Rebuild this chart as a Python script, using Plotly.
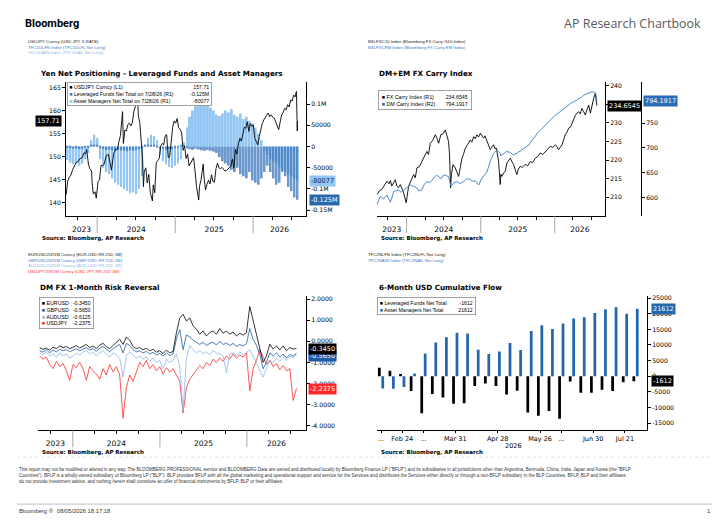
import plotly.graph_objects as go
import pandas as pd

W, H = 728, 525
def px(x): return x / W
def py(y): return 1 - y / H

# ---------------- DATA ----------------
# Panel 1: USDJPY spot (left axis)
usdjpy_dates = [
"2023-08-09","2023-08-16","2023-08-23","2023-08-30","2023-09-08","2023-09-15","2023-09-25","2023-10-04","2023-10-13","2023-10-23",
"2023-11-01","2023-11-08","2023-11-13","2023-11-21","2023-11-28","2023-12-06","2023-12-08","2023-12-14","2023-12-22","2023-12-28",
"2024-01-05","2024-01-12","2024-01-19","2024-01-26","2024-02-02","2024-02-13","2024-02-23","2024-03-08","2024-03-19","2024-03-27",
"2024-04-05","2024-04-12","2024-04-19","2024-04-26","2024-04-29","2024-05-03","2024-05-10","2024-05-17","2024-05-24","2024-05-31",
"2024-06-07","2024-06-14","2024-06-21","2024-06-28","2024-07-03","2024-07-10","2024-07-12","2024-07-19","2024-07-26","2024-08-01",
"2024-08-05","2024-08-09","2024-08-16","2024-08-23","2024-08-30","2024-09-06","2024-09-16","2024-09-20","2024-09-27","2024-10-04",
"2024-10-11","2024-10-18","2024-10-25","2024-11-01","2024-11-08","2024-11-15","2024-11-22","2024-11-29","2024-12-06","2024-12-13",
"2024-12-20","2024-12-27","2025-01-03","2025-01-10","2025-01-17","2025-01-24","2025-01-31","2025-02-07","2025-02-14","2025-02-21",
"2025-02-28","2025-03-07","2025-03-14","2025-03-21","2025-03-28","2025-04-04","2025-04-11","2025-04-21","2025-04-25","2025-05-02",
"2025-05-12","2025-05-16","2025-05-23","2025-05-30","2025-06-06","2025-06-13","2025-06-20","2025-06-27","2025-07-04","2025-07-11",
"2025-07-18","2025-07-25","2025-08-01","2025-08-08","2025-08-15","2025-08-22","2025-08-29","2025-09-05","2025-09-12","2025-09-19",
"2025-09-26","2025-10-03","2025-10-10","2025-10-17","2025-10-24","2025-10-31","2025-11-07","2025-11-14","2025-11-21","2025-11-28",
"2025-12-05","2025-12-12","2025-12-19","2025-12-26","2026-01-02","2026-01-09","2026-01-16","2026-01-23","2026-01-30","2026-02-06",
"2026-02-13","2026-02-20","2026-02-27","2026-03-06","2026-03-13","2026-03-20","2026-03-27","2026-04-03","2026-04-10","2026-04-17",
"2026-04-24","2026-05-01","2026-05-08","2026-05-15","2026-05-22","2026-05-29","2026-06-05","2026-06-12","2026-06-19","2026-06-26",
"2026-07-03","2026-07-10","2026-07-17","2026-07-23","2026-07-24","2026-07-27","2026-07-28"]
usdjpy_vals = [
141.8,144.7,145.6,145.9,147.2,147.8,148.8,149.0,149.6,149.8,
150.9,150.6,151.6,148.4,147.4,146.9,144.6,141.9,142.4,141.0,
144.6,145.0,148.1,148.1,148.3,150.3,150.5,147.1,150.8,151.5,
151.6,153.3,154.6,158.2,159.8,152.9,155.8,155.6,157.0,157.3,
156.7,157.4,159.8,160.9,161.6,161.4,158.9,157.4,153.8,149.4,
143.5,146.9,147.6,144.3,146.2,142.3,140.4,143.9,142.2,148.7,
149.2,149.6,152.3,152.9,152.6,154.6,154.8,149.8,150.0,153.7,
156.4,157.8,157.3,158.3,156.3,156.0,155.2,151.4,152.3,149.6,
150.6,148.0,148.6,149.3,149.8,146.9,143.5,140.6,143.6,145.0,
148.4,145.6,142.8,144.0,144.9,144.1,146.1,144.6,144.5,147.4,
148.6,147.6,147.4,147.7,147.2,146.9,147.0,147.4,147.7,148.0,
149.5,147.5,151.6,150.6,152.8,154.0,153.4,154.6,156.4,156.2,
157.6,155.5,157.2,156.6,156.9,154.0,153.2,152.6,154.4,155.9,
157.2,158.0,158.4,159.0,159.5,158.7,159.1,158.6,158.4,157.5,
156.8,155.9,157.6,159.1,159.6,160.5,160.2,161.3,160.8,162.3,
162.1,163.4,163.0,164.2,162.5,155.6,157.71]

# Panel 1: yen net positioning, bi-weekly (right axis)
pos_dates = pd.date_range("2023-08-15", periods=78, freq="14D")
am_net = [
-32000,-38000,-42000,-40000,-45000,-40000,-30000,-15000,15000,28000,
20000,-30000,-50000,-60000,-65000,-75000,-85000,-90000,-95000,-100000,
-105000,-110000,-108000,-112000,-100000,-70000,5000,20000,28000,25000,
15000,-20000,-35000,-42000,-48000,-50000,-45000,-40000,-30000,10000,
45000,70000,85000,95000,100000,105000,100000,98000,92000,85000,
75000,72000,78000,85000,80000,88000,75000,70000,78000,65000,
70000,60000,55000,45000,30000,15000,-10000,-20000,-30000,-35000,
-40000,-50000,-55000,-60000,-65000,-70000,-75000,-80077]
lf_net = [
-3000,-4000,-5000,-4000,-6000,-5000,-3000,-2000,2000,4000,
3000,-4000,-6000,-8000,-7000,-9000,-10000,-8000,-9000,-10000,
-11000,-9000,-10000,-8000,-6000,-3000,2000,3000,4000,2000,
-3000,-5000,-6000,-7000,-6000,-5000,-4000,-3000,2000,4000,
-4000,-6000,-8000,-5000,-7000,-9000,-10000,-8000,-10000,-12000,
-15000,-25000,-35000,-40000,-45000,-55000,-60000,-50000,-65000,-70000,
-75000,-60000,-80000,-85000,-90000,-75000,-60000,-45000,-60000,-75000,
-90000,-85000,-60000,-70000,-95000,-105000,-120000,-125300]
pos_right_ticks = [-150000, -100000, -50000, 0, 50000, 100000]
pos_right_text = ["-0.15M", "-0.1M", "-50000", "0", "50000", "0.1M"]
usdjpy_ticks = [140, 145, 150, 155, 160, 165]

# Panel 2: FX carry indices
carry_dates = [
"2023-08-08","2023-08-21","2023-09-01","2023-09-14","2023-09-26","2023-10-06","2023-10-13","2023-10-20","2023-10-30","2023-11-06",
"2023-11-14","2023-11-22","2023-12-01","2023-12-10","2023-12-17","2023-12-30","2024-01-11","2024-01-24","2024-02-05","2024-02-13",
"2024-02-21","2024-03-04","2024-03-16","2024-03-28","2024-04-10","2024-04-18","2024-04-27","2024-05-08","2024-05-22","2024-06-01",
"2024-06-07","2024-06-18","2024-06-28","2024-07-10","2024-07-18","2024-07-26","2024-07-31","2024-08-05","2024-08-09","2024-08-17",
"2024-08-28","2024-09-06","2024-09-14","2024-09-22","2024-09-30","2024-10-08","2024-10-17","2024-10-28","2024-11-10","2024-11-18",
"2024-11-27","2024-12-05","2024-12-13","2024-12-21","2024-12-30","2025-01-08","2025-01-15","2025-01-22","2025-01-31","2025-02-08",
"2025-02-17","2025-02-26","2025-03-05","2025-03-12","2025-03-19","2025-03-30","2025-04-07","2025-04-10","2025-04-15","2025-04-24",
"2025-05-02","2025-05-10","2025-05-18","2025-05-27","2025-06-04","2025-06-12","2025-06-20","2025-06-28","2025-07-06","2025-07-15",
"2025-07-25","2025-08-09","2025-08-20","2025-09-02","2025-09-14","2025-09-27","2025-10-09","2025-10-22","2025-11-03","2025-11-16",
"2025-11-28","2025-12-10","2025-12-22","2026-01-04","2026-01-12","2026-01-20","2026-02-06","2026-02-14","2026-02-22","2026-03-02",
"2026-03-11","2026-03-20","2026-03-27","2026-04-04","2026-04-12","2026-04-20","2026-04-29","2026-05-07","2026-05-15","2026-05-24",
"2026-06-01","2026-06-09","2026-06-17","2026-06-26","2026-07-05","2026-07-12","2026-07-20","2026-07-24","2026-07-28"]
carry_vals = [
210.7,211.8,212.1,213.2,214.3,213.6,214.5,213.0,214.2,214.7,
213.0,212.6,213.4,212.4,211.2,208.5,213.0,214.6,216.1,215.2,
217.9,218.2,219.6,221.0,222.3,221.5,224.5,225.2,226.8,225.6,
224.5,226.8,227.0,228.1,226.8,225.0,221.4,212.5,216.0,218.8,
217.9,216.8,215.6,218.0,220.5,221.6,223.2,224.1,225.4,224.8,
226.3,225.7,226.8,226.2,227.2,226.4,225.9,226.5,225.0,223.9,
222.8,223.6,224.1,223.0,223.2,219.6,213.4,216.2,215.6,216.5,
217.0,219.2,219.8,220.5,219.5,218.8,217.4,216.1,217.6,218.3,
218.0,218.9,218.4,219.6,219.3,220.5,220.9,221.9,221.5,222.3,
222.9,223.7,223.4,224.1,223.6,222.8,224.1,225.3,226.8,227.4,
228.6,228.9,229.9,231.2,231.9,232.6,233.0,232.4,233.9,233.0,
232.1,233.5,234.8,232.6,235.0,236.6,237.9,236.2,234.6545]
dm_dates = [
"2023-08-08","2023-08-24","2023-09-10","2023-09-26","2023-10-13","2023-10-30","2023-11-24","2023-12-05","2023-12-17","2024-01-02",
"2024-01-19","2024-02-05","2024-02-21","2024-03-01","2024-03-16","2024-03-28","2024-04-10","2024-04-25","2024-05-13","2024-05-27",
"2024-06-07","2024-06-20","2024-07-02","2024-07-26","2024-08-07","2024-08-20","2024-09-06","2024-09-20","2024-10-09","2024-10-24",
"2024-11-11","2024-11-25","2024-12-05","2024-12-22","2025-01-07","2025-01-20","2025-02-01","2025-02-17","2025-03-05","2025-03-22",
"2025-04-07","2025-04-10","2025-04-23","2025-05-08","2025-05-26","2025-06-10","2025-06-28","2025-07-15","2025-07-31","2025-08-12",
"2025-08-26","2025-09-05","2025-09-19","2025-10-01","2025-10-14","2025-10-27","2025-11-08","2025-11-24","2025-12-11","2025-12-25",
"2026-01-05","2026-01-17","2026-01-29","2026-02-15","2026-02-28","2026-03-11","2026-03-24","2026-04-05","2026-04-18","2026-04-30",
"2026-05-12","2026-05-25","2026-06-06","2026-06-18","2026-07-05","2026-07-22","2026-07-28"]
dm_vals = [
585,602,597,605,590,612,615,610,615,619,
625,622,619,613,615,626,632,630,639,645,
642,638,646,642,622,629,632,628,632,638,
636,632,634,625,639,645,652,673,689,696,
689,684,689,693,691,686,689,694,699,702,
706,712,720,727,733,738,743,750,757,762,
767,770,774,780,783,787,791,794,796,800,
802,807,809,811,814,811,794.1917]
carry_ticks = [210, 215, 220, 225, 230, 235, 240]
dm_ticks = [600, 650, 700, 750]

# Panel 3: 1M 25D risk reversals (bi-weekly)
rr_dates = pd.date_range("2023-08-15", periods=78, freq="14D")
eur_rr = [
-0.30,-0.38,-0.33,-0.42,-0.28,-0.35,-0.22,-0.30,-0.25,-0.35,
-0.28,-0.20,-0.32,-0.25,-0.15,-0.30,-0.22,-0.35,-0.18,-0.10,
-0.25,-0.35,-0.20,-0.05,0.10,-0.15,0.20,0.05,-0.25,-0.35,
-0.30,-0.40,-0.33,-0.45,-0.38,-0.52,-0.45,-0.58,-0.42,-0.55,
-0.48,0.40,1.10,1.28,0.96,1.10,0.73,0.57,0.33,0.49,
0.25,0.41,0.49,0.33,0.60,0.38,0.49,0.33,0.44,0.25,
0.38,0.29,0.41,1.65,0.96,0.41,-0.30,-1.00,-0.69,-0.14,
-0.37,-0.22,-0.41,-0.22,-0.45,-0.30,-0.37,-0.345]
gbp_rr = [
-0.45,-0.52,-0.40,-0.55,-0.42,-0.50,-0.38,-0.45,-0.40,-0.50,
-0.42,-0.35,-0.45,-0.38,-0.30,-0.42,-0.35,-0.48,-0.32,-0.25,
-0.38,-0.50,-0.35,-0.25,-0.15,-0.55,-0.10,-0.20,-0.40,-0.50,
-0.45,-0.55,-0.48,-0.60,-0.52,-0.65,-0.58,-0.70,-0.55,-0.68,
-0.60,0.10,0.55,-0.40,0.30,0.20,0.05,-0.05,-0.15,-0.05,
-0.20,-0.10,-0.05,-0.18,0.00,-0.15,-0.08,-0.20,-0.10,-0.25,
-0.15,-0.22,-0.12,0.60,0.10,-0.20,-0.60,-1.30,-1.00,-0.55,
-0.70,-0.55,-0.75,-0.60,-0.80,-0.62,-0.70,-0.565]
aud_rr = [
-0.55,-0.65,-0.50,-0.70,-0.60,-0.75,-0.55,-0.68,-0.60,-0.80,
-0.70,-0.55,-0.65,-0.50,-0.45,-0.60,-0.50,-0.70,-0.55,-0.45,
-0.60,-0.75,-0.55,-0.65,-0.80,-1.70,-0.70,-0.50,-0.65,-0.80,
-0.70,-0.85,-0.75,-0.95,-0.80,-1.00,-0.90,-1.30,-0.85,-1.00,
-0.90,-0.60,-1.20,-3.30,-0.80,-0.20,-0.40,-0.55,-0.45,-0.60,
-0.50,-0.65,-0.45,-0.55,-0.60,-0.70,-1.50,-0.60,-0.55,-0.70,
-0.50,-0.65,-0.55,-0.40,-0.70,-1.00,-1.40,-1.70,-1.30,-0.90,
-1.00,-0.80,-0.95,-0.75,-0.90,-0.70,-0.80,-0.6125]
jpy_rr = [
-0.70,-0.85,-0.75,-1.10,-1.30,-0.95,-1.20,-1.05,-1.40,-1.85,
-1.10,-1.25,-1.00,-1.30,-1.85,-1.20,-1.40,-1.55,-1.80,-1.30,
-1.60,-1.10,-1.45,-1.20,-1.60,-3.65,-2.20,-1.60,-1.90,-1.40,
-1.00,-1.20,-0.90,-1.30,-1.10,-1.40,-1.20,-1.55,-1.25,-1.45,
-1.30,-1.60,-1.90,-3.40,-2.20,-1.80,-1.60,-1.40,-1.15,-1.30,
-1.00,-1.15,-0.85,-1.00,-0.80,-0.95,-0.70,-0.85,-0.60,-0.80,
-0.65,-0.75,-0.55,-2.35,-1.30,-0.90,-0.40,-0.75,-1.10,-0.90,
-1.20,-1.05,-1.35,-1.15,-1.40,-1.30,-2.80,-2.2375]
rr_ticks = [-4, -3, -2, -1, 0, 1, 2]
rr_text = ["-4.0000", "-3.0000", "-2.0000", "-1.0000", "0.0000", "1.0000", "2.0000"]

# Panel 4: 6-month USD cumulative flow (weekly)
flow_dates = [d.strftime("%Y-%m-%d") for d in pd.date_range("2026-02-10", periods=25, freq="7D")]
flow_lf = [2700,1800,700,-4700,-11800,-5700,-6800,-8800,-8600,-3100,-2300,-3100,-5800,
           -4600,-11600,-12600,-11100,-13600,-1700,-5300,-5300,-4300,-4700,-1900,-1612]
flow_am = [-3900,-4000,-3400,900,7300,10800,12500,13900,13700,8500,7100,7900,10600,
           8400,14500,16300,15100,16900,18500,18900,20200,21400,22100,20000,21612]
flow_tick_idx = [0, 2, 4, 7, 11, 15, 17, 20, 23]
flow_tick_text = ["...", "Feb 24", "...", "Mar 31", "Apr 28", "May 26", "...", "Jun 30", "Jul 21"]
flow_ticks = [-15000, -10000, -5000, 0, 5000, 10000, 15000, 20000, 25000]
flow_tick_text_y = ["-15000", "-10000", "-5000", "0", "5000", "10000", "15000", "20000", "25000"]

year_labels = ["2023", "2024", "2025", "2026"]
quarter_ticks = ["2023-10-01", "2024-04-01", "2024-07-01", "2024-10-01", "2025-04-01",
                 "2025-07-01", "2025-10-01", "2026-04-01", "2026-07-01"]
year_bounds = ["2024-01-01", "2025-01-01", "2026-01-01"]

# ---------------- STYLE ----------------
FONT = "DejaVu Sans"
LFONT = "Liberation Sans"
C_LIGHT = "#93c6f2"
C_DARK = "#3b77bd"
C_BLUE = "#2367ae"
C_RED = "#ff2b2b"

X0, X1 = "2023-08-08", "2026-09-06"
b = [pd.Timestamp(X0)] + [pd.Timestamp(v) for v in year_bounds] + [pd.Timestamp(X1)]
year_centers = [(b[i] + (b[i + 1] - b[i]) / 2).strftime("%Y-%m-%d %H:%M") for i in range(4)]

fig = go.Figure()

# Panel 1
bw = 9 * 24 * 3600 * 1000
fig.add_trace(go.Bar(x=pos_dates, y=am_net, xaxis="x", yaxis="y", marker=dict(color=C_LIGHT, line=dict(width=0)),
                     width=bw, offset=-bw / 2, showlegend=False))
fig.add_trace(go.Bar(x=pos_dates, y=lf_net, xaxis="x", yaxis="y", marker=dict(color=C_DARK, line=dict(width=0)),
                     opacity=0.75, width=bw, offset=-bw / 2, showlegend=False))
fig.add_trace(go.Scatter(x=usdjpy_dates, y=usdjpy_vals, xaxis="x", yaxis="y2", mode="lines",
                         line=dict(color="black", width=0.9), showlegend=False))
# Panel 2
fig.add_trace(go.Scatter(x=carry_dates, y=carry_vals, xaxis="x2", yaxis="y3", mode="lines",
                         line=dict(color="black", width=0.9), showlegend=False))
fig.add_trace(go.Scatter(x=dm_dates, y=dm_vals, xaxis="x2", yaxis="y4", mode="lines",
                         line=dict(color="#3d7cc9", width=0.9), showlegend=False))
# Panel 3
for vals, col in [(jpy_rr, C_RED), (aud_rr, "#86b9ec"), (gbp_rr, "#1f5aa6"), (eur_rr, "black")]:
    fig.add_trace(go.Scatter(x=rr_dates, y=vals, xaxis="x3", yaxis="y5", mode="lines",
                             line=dict(color=col, width=0.8), showlegend=False))
# Panel 4
fig.add_trace(go.Bar(x=flow_dates, y=flow_lf, xaxis="x4", yaxis="y6", marker=dict(color="black", line=dict(width=0)), showlegend=False))
fig.add_trace(go.Bar(x=flow_dates, y=flow_am, xaxis="x4", yaxis="y6", marker=dict(color=C_BLUE, line=dict(width=0)), showlegend=False))

tickf = dict(family=FONT, size=6.2, color="black")

def time_x(dom, anchor):
    return dict(domain=dom, anchor=anchor, type="date", range=[X0, X1], showline=True, linecolor="black",
                linewidth=0.8, showgrid=False, zeroline=False, ticks="", tickmode="array",
                tickvals=year_centers, ticktext=year_labels, ticklabelstandoff=6,
                tickfont=dict(family=FONT, size=7.5, color="black"),
                minor=dict(tickmode="array", tickvals=quarter_ticks, ticks="outside", ticklen=3,
                           tickcolor="black", tickwidth=0.8, showgrid=False))

def val_y(dom, anchor, rng, tv, tt=None, side="right", **kw):
    d = dict(domain=dom, anchor=anchor, range=rng, side=side, showline=True, linecolor="black", linewidth=0.8,
             showgrid=False, zeroline=False, ticks="outside", ticklen=3, tickwidth=0.8, tickcolor="black",
             tickmode="array", tickvals=tv, tickfont=tickf)
    d["ticktext"] = tt if tt is not None else [str(v) for v in tv]
    d.update(kw)
    return d

top_dom = [py(215), py(80)]
bot_dom = [py(430), py(295)]

fig.update_layout(
    width=W, height=H, margin=dict(l=0, r=0, t=0, b=0),
    paper_bgcolor="white", plot_bgcolor="white",
    barmode="group", bargap=0.35, bargroupgap=0.2,
    xaxis=time_x([px(66), px(306)], "y"),
    yaxis=val_y(top_dom, "x", [-164000, 152600], pos_right_ticks, pos_right_text),
    yaxis2=val_y(top_dom, "x", [137.1, 166.3], usdjpy_ticks, side="left", overlaying="y"),
    xaxis2=time_x([px(377), px(605)], "y3"),
    yaxis3=val_y(top_dom, "x2", [204.9, 241.07], carry_ticks),
    yaxis4=val_y(top_dom, "free", [562, 834], dm_ticks, overlaying="y3", position=px(641)),
    xaxis3=time_x([px(38), px(306)], "y5"),
    yaxis5=val_y(bot_dom, "x3", [-4.22, 2.15], rr_ticks, rr_text),
    xaxis4=dict(domain=[px(377), px(647)], anchor="y6", type="category", range=[-0.38, 25.08],
                showline=True, linecolor="black", linewidth=0.8, showgrid=False, zeroline=False,
                ticks="outside", ticklen=2, tickcolor="black", tickwidth=0.8, tickmode="array",
                tickvals=[flow_dates[i] for i in flow_tick_idx], ticktext=flow_tick_text,
                tickfont=dict(family=FONT, size=6.5, color="black")),
    yaxis6=val_y(bot_dom, "x4", [-17300, 25700], flow_ticks, flow_tick_text_y),
)

# ---------------- ANNOTATIONS ----------------
ann = []
def text(t, x, y, size, color="black", family=FONT, xanchor="left", yanchor="middle", **kw):
    d = dict(text=t, x=px(x), y=py(y), xref="paper", yref="paper", xanchor=xanchor, yanchor=yanchor,
             showarrow=False, font=dict(family=family, size=size, color=color), align="left")
    d.update(kw)
    ann.append(d)

# page header
text("<b>Bloomberg</b>", 23, 22, 11, family="Roboto")
text("AP Research Chartbook", 703, 22, 12.5, color="#5a5a5a", family="Open Sans", xanchor="right")

# series headers
def header(lines, x, y):
    t = "<br>".join(f"<span style='color:{c}'>{s}</span>" for s, c in lines)
    text(t, x, y, 4.3, family=LFONT, yanchor="top")
header([("USDJPY Curncy (USD JPY X-RATE)", "#222"), ("TFC1DLFN Index (TFC1DLFL Net Long)", "#3b7bd0"),
        ("TFC1DAIN Index (TFC1DAIL Net Long)", "#8ab8e8")], 26, 35)
header([("BSLFXC10 Index (Bloomberg FX Carry G10 Index)", "#222"),
        ("BSLFXCEM Index (Bloomberg FX Carry EM Index)", "#3b7bd0")], 366, 35)
header([("EURUSD25R1M Curncy (EUR-USD RR 25D 1M)", "#222"), ("GBPUSD25R1M Curncy (GBP-USD RR 25D 1M)", "#3b7bd0"),
        ("AUDUSD25R1M Curncy (AUD-USD RR 25D 1M)", "#8ab8e8"), ("USDJPY25R1M Curncy (USD JPY RR 25D 1M)", C_RED)], 26, 249)
header([("TFC2NLFN Index (TFC2NLFL Net Long)", "#222"), ("TFC2NAIN Index (TFC2NAIL Net Long)", "#3b7bd0")], 366, 249)

# titles
text("<b>Yen Net Positioning - Leveraged Funds and Asset Managers</b>", 38, 72, 7.2)
text("<b>DM+EM FX Carry Index</b>", 377, 72, 7.2)
text("<b>DM FX 1-Month Risk Reversal</b>", 38, 287, 7.2)
text("<b>6-Month USD Cumulative Flow</b>", 377, 287, 7.2)

# sources
for x, y in [(40, 237), (379, 237), (40, 452.5), (379, 452.5)]:
    text("<b>Source: Bloomberg, AP Research</b>", x, y, 5.5)

text("2026", 513, 445.5, 6.5, xanchor="center")

# legends
def legend_box(x, y, w, rows, size=5.2, pad=1.5):
    names = "<br>".join(f"<span style='color:{c}'>■</span> {n}" for c, n, v in rows)
    vals = "<br>".join(v for c, n, v in rows)
    base = dict(x=px(x), y=py(y), xref="paper", yref="paper", xanchor="left", yanchor="top",
                width=w, showarrow=False, borderpad=pad, borderwidth=0.8,
                font=dict(family=LFONT, size=size, color="black"))
    ann.append(dict(base, text=names, align="left", bgcolor="white", bordercolor="#8a8a8a"))
    ann.append(dict(base, text=vals, align="right", bgcolor="rgba(0,0,0,0)", bordercolor="rgba(0,0,0,0)"))

legend_box(67, 80, 140, [("black", "USDJPY Curncy (L1)", f"{usdjpy_vals[-1]:.2f}"),
                         (C_DARK, "Leveraged Funds Net Total on 7/28/26 (R1)", "-0.125M"),
                         (C_LIGHT, "Asset Managers Net Total on 7/28/26 (R1)", f"{am_net[-1]}")])
legend_box(378, 88, 86, [("black", "FX Carry Index (R1)", f"{carry_vals[-1]:.4f}"),
                         (C_BLUE, "DM Carry Index (R2)", f"{dm_vals[-1]:.4f}")], size=5.3, pad=3)
legend_box(39, 296, 49, [("black", "EURUSD", f"{eur_rr[-1]:.4f}"), ("#1f5aa6", "GBPUSD", f"{gbp_rr[-1]:.4f}"),
                         ("#86b9ec", "AUDUSD", f"{aud_rr[-1]:.4f}"), (C_RED, "USDJPY", f"{jpy_rr[-1]:.4f}")],
           size=5.3, pad=2)
legend_box(377, 296, 93, [("black", "Leveraged Funds Net Total", f"{flow_lf[-1]}"),
                          (C_BLUE, "Asset Managers Net Total", f"{flow_am[-1]}")], size=5.2, pad=2)

# last-value tags
def tag(t, x, yref, yv, bg, fg="white", xanchor="left"):
    ann.append(dict(text=t, x=px(x), xref="paper", y=yv, yref=yref, xanchor=xanchor, yanchor="middle",
                    showarrow=False, bgcolor=bg, borderpad=1, font=dict(family=FONT, size=6.5, color=fg)))

tag(f"{usdjpy_vals[-1]:.2f}", 62, "y2", usdjpy_vals[-1], "black", xanchor="right")
tag(f"{am_net[-1]}", 309, "y", am_net[-1], C_LIGHT, fg="#0d2b55")
tag("-0.125M", 309, "y", lf_net[-1], "#2a68ae")
tag(f"{carry_vals[-1]:.4f}", 607, "y3", carry_vals[-1], "black")
tag(f"{dm_vals[-1]:.4f}", 643, "y4", dm_vals[-1], "#2a6db5")
tag(f"{aud_rr[-1]:.4f}", 308, "y5", aud_rr[-1], "#86b9ec")
tag(f"{gbp_rr[-1]:.4f}", 308, "y5", gbp_rr[-1] - 0.12, "#1f5aa6")
tag(f"{eur_rr[-1]:.4f}", 308, "y5", eur_rr[-1], "black")
tag(f"{jpy_rr[-1]:.4f}", 308, "y5", jpy_rr[-1], C_RED)
tag(f"{flow_am[-1]}", 651, "y6", flow_am[-1], C_BLUE)
tag(f"{flow_lf[-1]}", 651, "y6", flow_lf[-1], "black")

# footer
disclaimer = [
    'This report may not be modified or altered in any way. The BLOOMBERG PROFESSIONAL service and BLOOMBERG Data are owned and distributed locally by Bloomberg Finance LP ("BFLP") and its subsidiaries in all jurisdictions other than Argentina, Bermuda, China, India, Japan and Korea (the "BFLP',
    'Countries"). BFLP is a wholly-owned subsidiary of Bloomberg LP ("BLP"). BLP provides BFLP with all the global marketing and operational support and service for the Services and distributes the Services either directly or through a non-BFLP subsidiary in the BLP Countries. BFLP, BLP and their affiliates',
    'do not provide investment advice, and nothing herein shall constitute an offer of financial instruments by BFLP, BLP or their affiliates.',
]
for i, line in enumerate(disclaimer):
    text(line, 17, 469 + 6 * i, 4.52, color="#333", family=LFONT)
text("Bloomberg ®", 17, 511, 5.8, family=LFONT, color="#333")
text("08/05/2026 18:17:18", 55, 511, 5.8, family=LFONT, color="#333")
text("1", 712, 511, 5.8, family=LFONT, color="#333", xanchor="right")

fig.update_layout(annotations=ann)

# ---------------- SHAPES (axis decorations) ----------------
shapes = []
for xr, ybot in [("x", 215), ("x2", 215), ("x3", 430)]:
    for d in year_bounds:
        shapes.append(dict(type="line", xref=xr, yref="paper", x0=d, x1=d, y0=py(ybot), y1=py(ybot + 17),
                           line=dict(color="#a8a8a8", width=1)))
shapes.append(dict(type="line", xref="paper", yref="paper", x0=px(17), x1=px(712), y0=py(457), y1=py(457),
                   line=dict(color="#cccccc", width=0.6, dash="dot")))
shapes.append(dict(type="line", xref="paper", yref="paper", x0=px(17), x1=px(712), y0=py(504), y1=py(504),
                   line=dict(color="#999999", width=0.6)))
fig.update_layout(shapes=shapes)

fig.write_html("out.html", config={"displayModeBar": False},
               post_script="document.body.style.margin='0px';document.body.style.overflow='hidden';")
